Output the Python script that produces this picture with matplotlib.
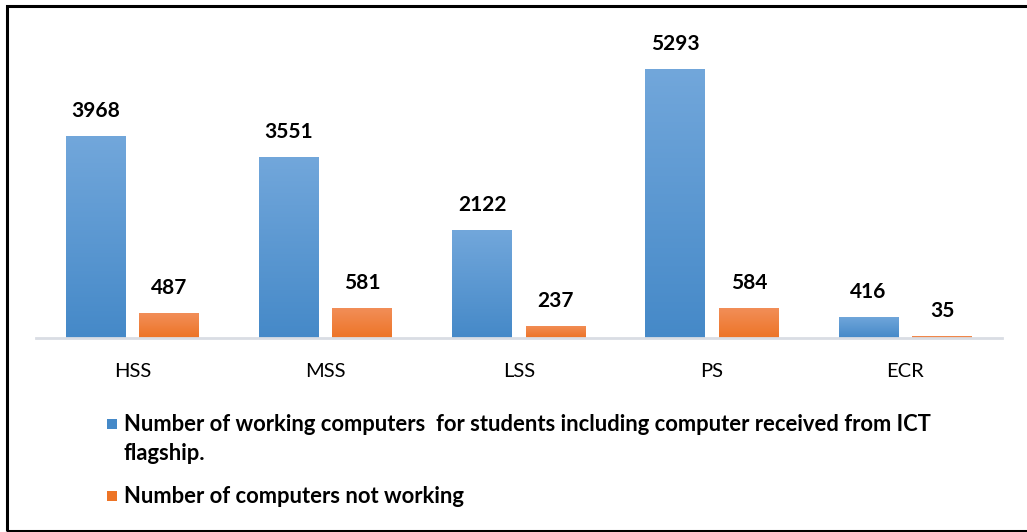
import numpy as np
import matplotlib.pyplot as plt
from matplotlib.colors import LinearSegmentedColormap
from matplotlib.patches import Rectangle

categories = ["HSS", "MSS", "LSS", "PS", "ECR"]
working = [3968, 3551, 2122, 5293, 416]
not_working = [487, 581, 237, 584, 35]
legend_labels = [
    "Number of working computers  for students including computer received from ICT\nflagship.",
    "Number of computers not working",
]

blue_top, blue_bottom = "#72a7db", "#4589c8"
orange_top, orange_bottom = "#f28e58", "#ed7426"

plt.rcParams['font.family'] = ['Lato', 'DejaVu Sans']


def gradient_fill(ax, patch, top, bottom):
    cmap = LinearSegmentedColormap.from_list("g", [bottom, top])
    x0, y0 = patch.get_x(), patch.get_y()
    w, h = patch.get_width(), patch.get_height()
    grad = np.linspace(0, 1, 256).reshape(-1, 1)
    im = ax.imshow(grad, cmap=cmap, origin="lower", aspect="auto",
                   extent=(x0, x0 + w, y0, y0 + h), zorder=2)
    im.set_clip_path(patch)
    patch.set_facecolor("none")


fig = plt.figure(figsize=(10.27, 5.32), dpi=100)
ax = fig.add_axes([0.035, 0.3647, 0.9405, 0.5733])

x = np.arange(len(categories))
w = 0.31
b1 = ax.bar(x - 0.19, working, w, color=blue_bottom, zorder=2, linewidth=0)
b2 = ax.bar(x + 0.19, not_working, w, color=orange_bottom, zorder=2, linewidth=0)
for p in b1:
    gradient_fill(ax, p, blue_top, blue_bottom)
for p in b2:
    gradient_fill(ax, p, orange_top, orange_bottom)

for bars, vals in [(b1, working), (b2, not_working)]:
    for p, v in zip(bars, vals):
        ax.annotate(str(v), (p.get_x() + p.get_width() / 2, v),
                    xytext=(0, 11), textcoords="offset points",
                    ha="center", va="bottom", fontsize=15, fontweight="bold")

ax.set_xlim(-0.5, len(categories) - 0.5)
ax.set_ylim(0, 6000)
ax.set_xticks(x)
ax.set_xticklabels(categories, fontsize=14.5)
ax.tick_params(axis="x", length=0, pad=18)
ax.set_yticks([])
for s in ["top", "right", "left"]:
    ax.spines[s].set_visible(False)
ax.spines["bottom"].set_color("#d9dde4")
ax.spines["bottom"].set_linewidth(2)

# legend drawn by hand so the square sits on the first line
W, H = 1027, 532
leg_y = [424, 496]
for (c1, c2), lab, yy in zip([(blue_top, blue_bottom), (orange_top, orange_bottom)],
                             legend_labels, leg_y):
    fig.patches.append(Rectangle((107 / W, 1 - (yy + 5) / H), 10 / W, 10 / H,
                                 transform=fig.transFigure, facecolor=c2,
                                 edgecolor="none"))
    fig.text(124 / W, 1 - (yy - 10) / H, lab, fontsize=15.8, fontweight="bold",
             va="top", ha="left", linespacing=1.45)

fig.patches.append(Rectangle((6.5 / W, 1 / H), 1.2, 1 - 5.5 / H - 1 / H,
                             transform=fig.transFigure, facecolor="none",
                             edgecolor="black", linewidth=2.2))

fig.savefig("out.png", dpi=100, facecolor="white")
